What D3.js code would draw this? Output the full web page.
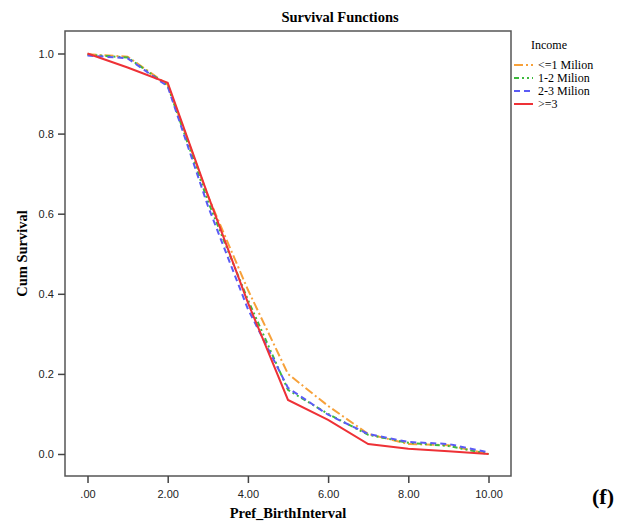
<!DOCTYPE html>
<html>
<head>
<meta charset="utf-8">
<script src="https://cdn.jsdelivr.net/npm/d3@7"></script>
<style>
    body { margin: 0; background: #fff; }
    svg { display: block; }
</style>
</head>
<body>
<div id="chart"></div>
<script>
// Survival values, one array per income group
const times = [0, 1, 2, 3, 4, 5, 6, 7, 8, 9, 10];
const groups = ["<=1 Milion", "1-2 Milion", "2-3 Milion", ">=3"];
const lowIncome = [0.998, 0.992, 0.922, 0.645, 0.41, 0.20, 0.12, 0.05, 0.025, 0.022, 0.0];
const midIncome = [0.997, 0.990, 0.920, 0.632, 0.385, 0.16, 0.10, 0.048, 0.028, 0.02, 0.0];
const upperIncome = [0.995, 0.988, 0.918, 0.620, 0.362, 0.165, 0.098, 0.05, 0.03, 0.025, 0.004];
const highIncome = [1.0, 0.965, 0.927, 0.647, 0.378, 0.135, 0.085, 0.025, 0.013, 0.007, 0.0];
const xTicks = [0, 2, 4, 6, 8, 10];
const yTicks = [0, 0.2, 0.4, 0.6, 0.8, 1.0];

const seriesValues = [lowIncome, midIncome, upperIncome, highIncome];
const colors = ["#f7a13a", "#3dba3d", "#5b5bf5", "#ee3136"];
const dashes = ["9,3,2,3", "5,3,2,3,2,3", "6,4", null];

const width = 628, height = 527;
const frame = { left: 65, right: 511, top: 31, bottom: 476 };

const svg = d3.select("#chart")
    .append("svg")
    .attr("width", width)
    .attr("height", height);

const xScale = d3.scaleLinear()
    .domain([0, 10])
    .range([87.5, 488.5]);

const yScale = d3.scaleLinear()
    .domain([0, 1])
    .range([454, 53.5]);

// plot frame
svg.append("rect")
    .attr("x", frame.left)
    .attr("y", frame.top)
    .attr("width", frame.right - frame.left)
    .attr("height", frame.bottom - frame.top)
    .attr("fill", "none")
    .attr("stroke", "#555")
    .attr("stroke-width", 1.5);

// axes
const xAxis = svg.append("g")
    .attr("transform", `translate(0,${frame.bottom})`)
    .call(d3.axisBottom(xScale).tickValues(xTicks).tickSize(7).tickSizeOuter(0)
        .tickFormat(d => d === 0 ? ".00" : d3.format(".2f")(d)));

const yAxis = svg.append("g")
    .attr("transform", `translate(${frame.left},0)`)
    .call(d3.axisLeft(yScale).tickValues(yTicks).tickSize(7).tickSizeOuter(0)
        .tickFormat(d3.format(".1f")));

[xAxis, yAxis].forEach(ax => {
    ax.select(".domain").remove();
    ax.selectAll(".tick line").attr("stroke", "#444").attr("stroke-width", 1.5);
    ax.selectAll(".tick text")
        .attr("fill", "#222")
        .style("font-family", "Liberation Sans, Arial, sans-serif")
        .style("font-size", "11px");
});
xAxis.selectAll(".tick text").attr("dy", "1.05em");
yAxis.selectAll(".tick text").attr("dx", "-0.1em");

// survival curves
const line = d3.line()
    .x((d, i) => xScale(times[i]))
    .y(d => yScale(d));

seriesValues.forEach((vals, i) => {
    svg.append("path")
        .datum(vals)
        .attr("fill", "none")
        .attr("stroke", colors[i])
        .attr("stroke-width", 2)
        .attr("stroke-dasharray", dashes[i])
        .attr("d", line);
});

// titles
const serif = "Liberation Serif, Times New Roman, serif";

svg.append("text")
    .attr("x", 340)
    .attr("y", 22)
    .attr("text-anchor", "middle")
    .style("font-family", serif)
    .style("font-weight", "bold")
    .style("font-size", "14.5px")
    .text("Survival Functions");

svg.append("text")
    .attr("x", 288)
    .attr("y", 518)
    .attr("text-anchor", "middle")
    .style("font-family", serif)
    .style("font-weight", "bold")
    .style("font-size", "14.5px")
    .text("Pref_BirthInterval");

svg.append("text")
    .attr("transform", `translate(27,${(frame.top + frame.bottom) / 2}) rotate(-90)`)
    .attr("text-anchor", "middle")
    .style("font-family", serif)
    .style("font-weight", "bold")
    .style("font-size", "14.5px")
    .text("Cum Survival");

svg.append("text")
    .attr("x", 592)
    .attr("y", 504)
    .style("font-family", serif)
    .style("font-weight", "bold")
    .style("font-size", "22px")
    .text("(f)");

// legend
const legend = svg.append("g");

legend.append("text")
    .attr("x", 531)
    .attr("y", 49)
    .style("font-family", serif)
    .style("font-size", "12px")
    .text("Income");

groups.forEach((g, i) => {
    const y = 65 + i * 13;
    legend.append("line")
        .attr("x1", 514)
        .attr("x2", 533)
        .attr("y1", y)
        .attr("y2", y)
        .attr("stroke", colors[i])
        .attr("stroke-width", 2)
        .attr("stroke-dasharray", dashes[i]);
    legend.append("text")
        .attr("x", 538)
        .attr("y", y + 4)
        .style("font-family", serif)
        .style("font-size", "12px")
        .text(g);
});
</script>
</body>
</html>
